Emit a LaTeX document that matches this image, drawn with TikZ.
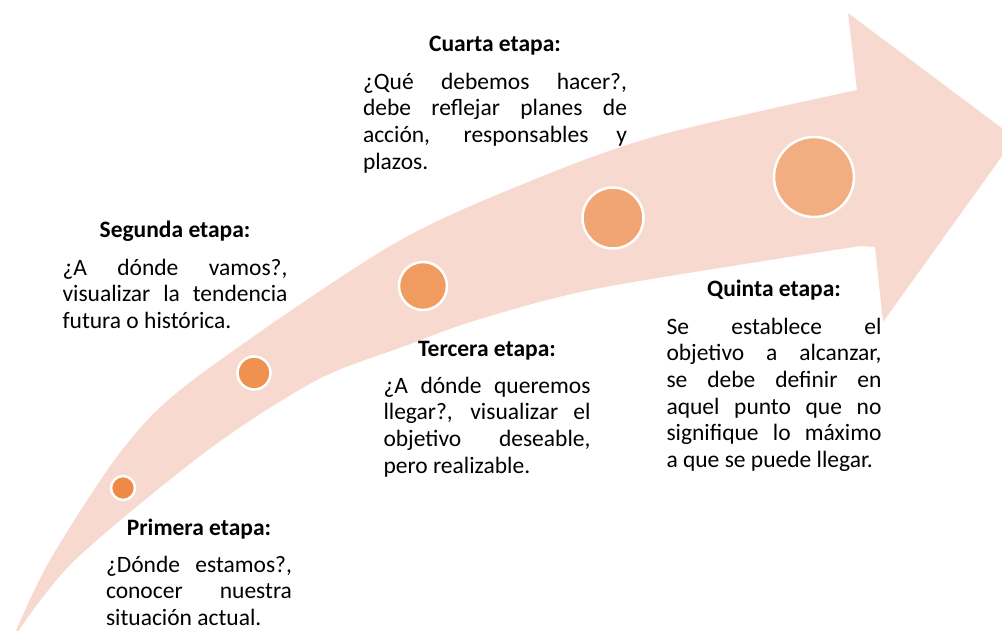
\documentclass[tikz,border=0pt]{standalone}
\usepackage{fontspec}
\setmainfont{Carlito}
\usetikzlibrary{positioning}

\definecolor{flecha}{HTML}{F8D9CF}
\definecolor{punto1}{HTML}{EE8A45}
\definecolor{punto2}{HTML}{EF914F}
\definecolor{punto3}{HTML}{F09B60}
\definecolor{punto4}{HTML}{F1A573}
\definecolor{punto5}{HTML}{F2AD80}

\tikzset{
  etapa/.style={font=\bfseries\fontsize{23.5}{26.7}\selectfont, text height=18.7pt, text depth=8pt, inner sep=0pt, anchor=base},
  texto/.style={font=\fontsize{23.5}{26.7}\selectfont, align=justify, inner sep=0pt},
  punto/.style={circle, draw=white, line width=2.5pt, inner sep=0pt},
}
\hbadness=10000

\begin{document}
\begin{tikzpicture}[x=1pt,y=-1pt]
  \useasboundingbox (0,0) rectangle (1002,631);
  \clip (0,0) rectangle (1002,631);

  % flecha curva
  \fill[flecha] plot[smooth] coordinates {(15,633) (50,560) (122,450) (193,380) (390,246) (533,180) (660,135) (857,90)}
    -- (848,13) -- (1015,138) -- (883,322) -- (875,247)
    -- plot[smooth] coordinates {(860,246) (600,288) (477,320) (405,346) (317,380) (208,450) (75,560) (17,633)} -- cycle;

  % puntos
  \node[punto, fill=punto1, minimum size=24pt] (p1) at (123,488) {};
  \node[punto, fill=punto2, minimum size=33pt] (p2) at (254,373) {};
  \node[punto, fill=punto3, minimum size=48pt] (p3) at (423,286) {};
  \node[punto, fill=punto4, minimum size=61pt] (p4) at (613,218) {};
  \node[punto, fill=punto5, minimum size=80pt] (p5) at (814,177) {};

  % etapas
  \node[etapa] (primera) at (199,535) {Primera etapa:};
  \node[texto, text width=186pt, below=10pt of primera] (primeratxt) {\strut ¿Dónde estamos?,\linebreak conocer nuestra\linebreak situación actual.};

  \node[etapa] (segunda) at (175,238) {Segunda etapa:};
  \node[texto, text width=225pt, below=10pt of segunda] (segundatxt) {\strut ¿A dónde vamos?,\linebreak visualizar la tendencia\linebreak futura o histórica.};

  \node[etapa] (tercera) at (487,356) {Tercera etapa:};
  \node[texto, text width=207pt, below=10pt of tercera] (terceratxt) {\strut ¿A dónde queremos\linebreak llegar?, visualizar el\linebreak objetivo deseable,\linebreak pero realizable.};

  \node[etapa] (cuarta) at (495,52) {Cuarta etapa:};
  \node[texto, text width=264pt, below=10pt of cuarta] (cuartatxt) {\strut ¿Qué debemos hacer?,\linebreak debe reflejar planes de\linebreak acción, responsables y\linebreak plazos.};

  \node[etapa] (quinta) at (774,297) {Quinta etapa:};
  \node[texto, text width=215pt, below=10pt of quinta] (quintatxt) {\strut Se establece el\linebreak objetivo a alcanzar,\linebreak se debe definir en\linebreak aquel punto que no\linebreak signifique lo máximo\linebreak a que se puede llegar.};
\end{tikzpicture}
\end{document}
